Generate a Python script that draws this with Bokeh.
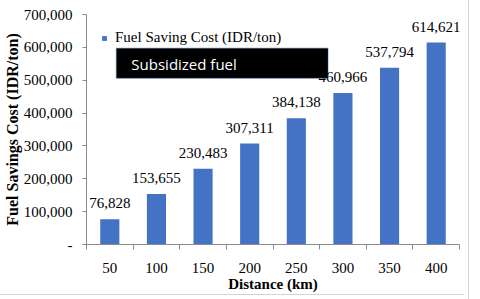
from bokeh.plotting import figure
from bokeh.models import (ColumnDataSource, FixedTicker, NumeralTickFormatter, Range1d,
                          Legend, LegendItem, BoxAnnotation, Label, LabelSet)
from bokeh.embed import file_html
from bokeh.resources import INLINE

distance = [50, 100, 150, 200, 250, 300, 350, 400]
cost = [76828, 153655, 230483, 307311, 384138, 460966, 537794, 614621]
cost_labels = ["76,828", "153,655", "230,483", "307,311", "384,138", "460,966", "537,794", "614,621"]
y_ticks = [0, 100000, 200000, 300000, 400000, 500000, 600000, 700000]

SERIF = "Liberation Serif"
BLUE = "#4472C4"

src = ColumnDataSource(dict(x=distance, top=cost, lab=cost_labels))

p = figure(width=464, height=295, output_backend="svg", toolbar_location=None,
           x_range=Range1d(25, 425), y_range=Range1d(0, 700000),
           min_border_left=80, min_border_top=14, min_border_right=5, min_border_bottom=51)
p.outline_line_color = None
p.grid.grid_line_color = None
p.background_fill_color = "white"
p.border_fill_color = None
p.styles = {"outline": "1px solid #d4d4d4", "outline-offset": "4px",
            "box-shadow": "inset 0 -1px 0 0 #d4d4d4", "background-color": "white"}

bars = p.vbar(x="x", top="top", width=20.5, source=src, fill_color=BLUE, line_color=None)

labels = LabelSet(x="x", y="top", text="lab", source=src, text_align="center",
                  text_baseline="alphabetic", y_offset=11, text_font=SERIF,
                  text_font_size="15px", text_color="black")
p.add_layout(labels)

# Y axis
yax = p.yaxis[0]
yax.ticker = FixedTicker(ticks=y_ticks)
yax.formatter = NumeralTickFormatter(format="0,0")
yax.major_label_overrides = {0: "-"}
yax.major_tick_out = 4
yax.major_tick_in = 0
yax.minor_tick_line_color = None
yax.major_label_standoff = 10
yax.major_label_text_font = SERIF
yax.major_label_text_font_size = "15px"
yax.major_label_text_color = "black"
yax.axis_line_color = "#8c8c8c"
yax.major_tick_line_color = "#8c8c8c"
yax.axis_label = "Fuel Savings Cost (IDR/ton)"
yax.axis_label_text_font = SERIF
yax.axis_label_text_font_style = "bold"
yax.axis_label_text_font_size = "16px"
yax.axis_label_text_color = "black"
yax.axis_label_standoff = 0

# X axis
xax = p.xaxis[0]
xax.ticker = FixedTicker(ticks=distance, minor_ticks=[25, 75, 125, 175, 225, 275, 325, 375, 425])
xax.major_tick_line_color = None
xax.major_tick_out = 0
xax.major_tick_in = 0
xax.minor_tick_out = 5
xax.minor_tick_in = 0
xax.minor_tick_line_color = "#8c8c8c"
xax.axis_line_color = "#8c8c8c"
xax.major_label_standoff = 13
xax.major_label_text_font = SERIF
xax.major_label_text_font_size = "15px"
xax.major_label_text_color = "black"
xax.axis_label = "Distance (km)"
xax.axis_label_text_font = SERIF
xax.axis_label_text_font_style = "bold"
xax.axis_label_text_font_size = "15px"
xax.axis_label_text_color = "black"
xax.axis_label_standoff = 0

legend = Legend(items=[LegendItem(label="Fuel Saving Cost (IDR/ton)", renderers=[bars])],
                location="top_left", margin=15, padding=5, glyph_width=6, glyph_height=6,
                label_standoff=8, label_text_font=SERIF, label_text_font_size="15px",
                label_text_color="black", border_line_color=None, background_fill_alpha=0)
p.add_layout(legend)

box = BoxAnnotation(left=57, right=284, top=597000, bottom=506000,
                    fill_color="black", fill_alpha=1.0, line_color="#2F5597", line_width=1.5)
p.add_layout(box)
note = Label(x=57, y=549000, text="Subsidized fuel", x_offset=15, text_baseline="middle",
             text_font="Open Sans", text_font_size="15px", text_color="white")
p.add_layout(note)

open("out.html", "w").write(file_html(p, INLINE))
